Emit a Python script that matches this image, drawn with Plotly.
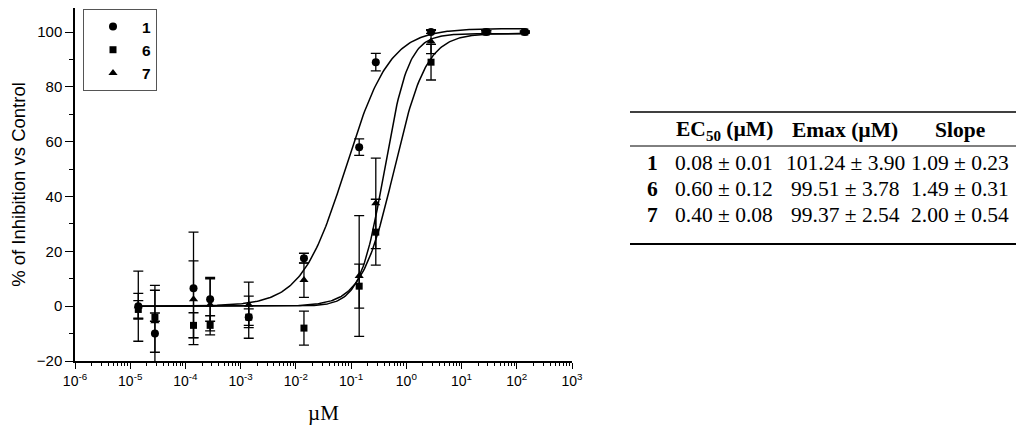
import numpy as np
import plotly.graph_objects as go

# concentrations (uM)
conc = [1.4e-5, 2.8e-5, 1.4e-4, 2.8e-4, 1.4e-3, 1.4e-2, 0.14, 0.28, 2.8, 28, 140]

# % inhibition vs control, mean and error for each compound
inh_1 = [0.0, -10.0, 6.5, 2.5, -4.0, 17.5, 58.0, 89.0, 100.0, 100.0, 100.0]
err_1 = [12.8, 17.6, 20.5, 8.0, 7.7, 1.8, 3.0, 3.2, 0.5, 0.3, 0.3]
inh_6 = [-1.2, -4.0, -7.0, -7.0, -4.0, -8.0, 7.3, 27.0, 89.0, 100.0, 100.0]
err_6 = [3.2, 1.5, 4.6, 3.5, 3.0, 6.2, 8.0, 12.0, 6.5, 0.5, 0.3]
inh_7 = [0.0, -5.5, 2.5, 0.5, 0.5, 9.5, 11.0, 37.5, 96.5, 100.0, 100.0]
err_7 = [4.7, 11.3, 14.0, 9.5, 8.3, 6.3, 22.0, 16.5, 4.4, 0.5, 0.3]

# fit parameters (table)
compounds = ["1", "6", "7"]
ec50 = [0.08, 0.60, 0.40]
ec50_err = [0.01, 0.12, 0.08]
emax = [101.24, 99.51, 99.37]
emax_err = [3.90, 3.78, 2.54]
slope = [1.09, 1.49, 2.00]
slope_err = [0.23, 0.31, 0.54]

xtick_vals = [1e-6, 1e-5, 1e-4, 1e-3, 1e-2, 1e-1, 1e0, 1e1, 1e2, 1e3]
xtick_text = ["10<sup>-6</sup>", "10<sup>-5</sup>", "10<sup>-4</sup>", "10<sup>-3</sup>",
              "10<sup>-2</sup>", "10<sup>-1</sup>", "10<sup>0</sup>", "10<sup>1</sup>",
              "10<sup>2</sup>", "10<sup>3</sup>"]

# page has an 8px body margin, so the figure is shrunk and shifted to fit
OFF = 8
W, H = 1024 - 2 * OFF, 436 - 2 * OFF
ML, MR, MT, MB = 75 - OFF, W - (572 - OFF), 0, H - (361 - OFF)


def px(x):
    return (x - OFF - ML) / (W - ML - MR)


def py(y):
    return (H - MB - (y - OFF)) / (H - MT - MB)


fig = go.Figure()

# fitted curves from the table parameters
xs = np.logspace(np.log10(conc[0]), np.log10(conc[-1]), 300)
for i in range(3):
    ys = emax[i] / (1 + (ec50[i] / xs) ** slope[i])
    fig.add_trace(go.Scatter(x=xs, y=ys, mode="lines", showlegend=False,
                             line=dict(color="black", width=1.5), hoverinfo="skip"))

symbols = ["circle", "square", "triangle-up"]
sizes = [8, 7, 8]
for name, y, e, sym, sz in zip(compounds, [inh_1, inh_6, inh_7], [err_1, err_6, err_7], symbols, sizes):
    fig.add_trace(go.Scatter(
        x=conc, y=y, mode="markers", name="<b>" + name + "</b>",
        marker=dict(symbol=sym, size=sz, color="black"),
        error_y=dict(type="data", array=e, color="black", thickness=1.3, width=5),
    ))

fig.update_layout(
    width=W, height=H,
    margin=dict(l=ML, r=MR, t=MT, b=MB, autoexpand=False),
    paper_bgcolor="white", plot_bgcolor="white",
    font=dict(family="Liberation Sans, Arial", color="black"),
    legend=dict(x=px(83), y=py(9), xanchor="left", yanchor="top",
                bordercolor="#555", borderwidth=1, bgcolor="white",
                font=dict(size=15.5), itemwidth=48),
)

fig.update_xaxes(
    type="log", range=[-6, 3], showgrid=False, zeroline=False, automargin=False,
    showline=True, linecolor="black", linewidth=1.5,
    ticks="outside", ticklen=6, tickwidth=1.3, tickcolor="black",
    tickvals=xtick_vals, ticktext=xtick_text, tickfont=dict(size=14),
    minor=dict(ticks="outside", ticklen=3, tickwidth=1, tickcolor="black", dtick="D1", showgrid=False),
    title=dict(text="µM", font=dict(family="Liberation Serif, Times New Roman", size=21), standoff=18),
)
ytop = (306 - OFF) / 2.74
fig.update_yaxes(
    range=[-20, ytop], showgrid=False, zeroline=False, automargin=False,
    showline=True, linecolor="black", linewidth=1.5,
    ticks="outside", ticklen=8, tickwidth=1.3, tickcolor="black",
    tickvals=[-20, 0, 20, 40, 60, 80, 100], tickfont=dict(size=15),
    minor=dict(ticks="outside", ticklen=4, tickwidth=1, tickcolor="black", dtick=10, showgrid=False),
    title=dict(text="% of Inhibition vs Control", font=dict(size=18.5), standoff=11),
)

# table on the right
serif = "Liberation Serif, Times New Roman"
tx0, tx1 = 630, 1019
for yline, lw in [(112, 1.3), (146, 1.0), (244, 2.0)]:
    fig.add_shape(type="line", xref="paper", yref="paper",
                  x0=px(tx0), x1=px(tx1), y0=py(yline), y1=py(yline),
                  line=dict(color="black", width=lw))

col_x = [652, 724, 845, 960]
headers = ["", "<b>EC<sub>50</sub> (µM)</b>", "<b>Emax (µM)</b>", "<b>Slope</b>"]
for cx, htxt in zip(col_x, headers):
    if htxt:
        fig.add_annotation(x=px(cx), y=py(130), xref="paper", yref="paper", text=htxt,
                           showarrow=False, font=dict(family=serif, size=21.5), xanchor="center", yanchor="middle")

row_y = [163, 189, 215]
for i, ry in enumerate(row_y):
    cells = ["<b>" + compounds[i] + "</b>",
             f"{ec50[i]:.2f} ± {ec50_err[i]:.2f}",
             f"{emax[i]:.2f} ± {emax_err[i]:.2f}",
             f"{slope[i]:.2f} ± {slope_err[i]:.2f}"]
    for cx, ctxt in zip(col_x, cells):
        fig.add_annotation(x=px(cx), y=py(ry), xref="paper", yref="paper", text=ctxt,
                           showarrow=False, font=dict(family=serif, size=21.5), xanchor="center", yanchor="middle")

fig.write_html("out.html")
